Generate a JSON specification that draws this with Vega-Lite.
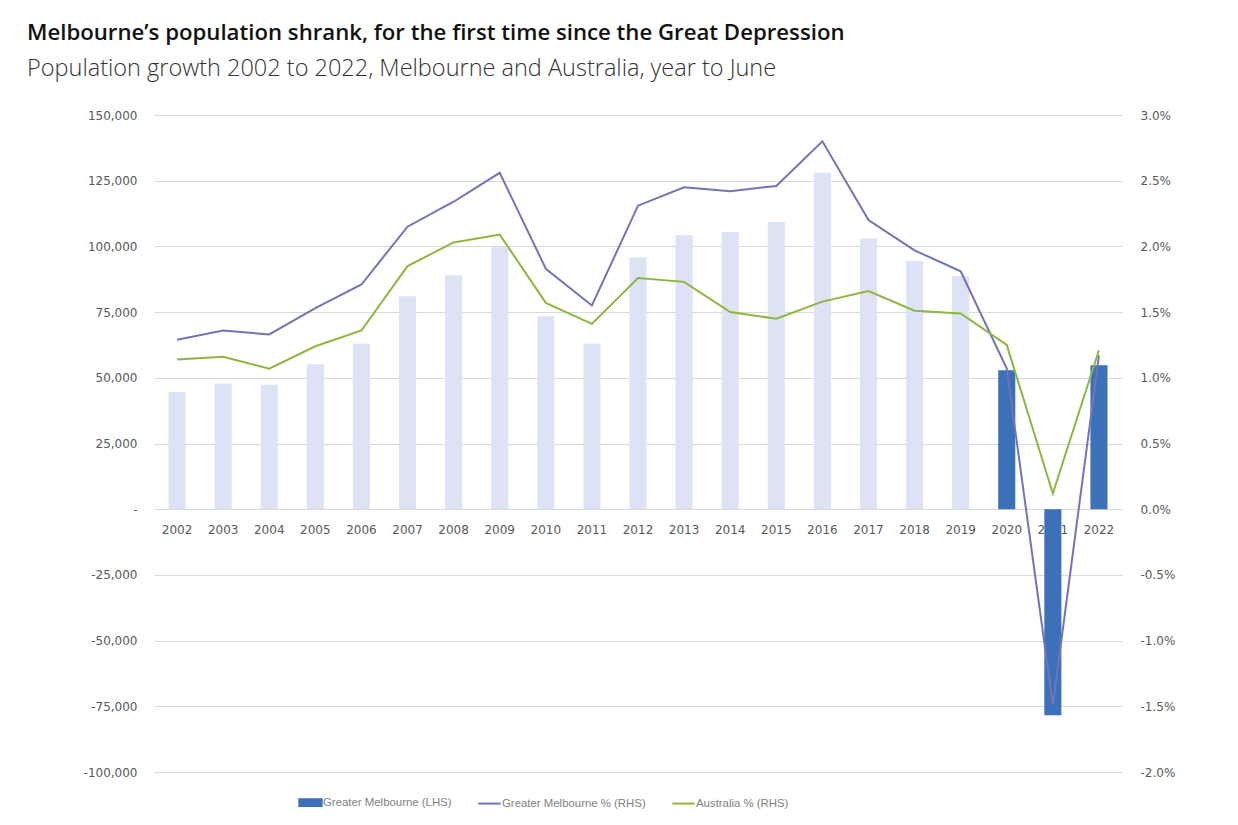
{
  "$schema": "https://vega.github.io/schema/vega-lite/v6.json",
  "width": 968,
  "height": 657,
  "autosize": {"type": "none"},
  "padding": {"left": 154, "top": 115, "right": 116, "bottom": 53},
  "background": "white",
  "config": {"view": {"stroke": null}, "font": "Open Sans"},
  "title": {
    "text": "Melbourne’s population shrank, for the first time since the Great Depression",
    "subtitle": "Population growth 2002 to 2022, Melbourne and Australia, year to June",
    "anchor": "start",
    "frame": "group",
    "dx": -127,
    "offset": 29,
    "font": "Open Sans",
    "fontSize": 22.2,
    "fontWeight": 600,
    "color": "#111111",
    "subtitleFont": "Open Sans",
    "subtitleFontSize": 23.5,
    "subtitleFontWeight": 300,
    "subtitleColor": "#333333",
    "subtitlePadding": 12
  },
  "data": {
    "values": [
      {"year": 2002, "melb": 44600, "melbPct": 0.0129, "ausPct": 0.0114},
      {"year": 2003, "melb": 47800, "melbPct": 0.0136, "ausPct": 0.0116},
      {"year": 2004, "melb": 47400, "melbPct": 0.0133, "ausPct": 0.0107},
      {"year": 2005, "melb": 55200, "melbPct": 0.0153, "ausPct": 0.0124},
      {"year": 2006, "melb": 63000, "melbPct": 0.0171, "ausPct": 0.0136},
      {"year": 2007, "melb": 81000, "melbPct": 0.0215, "ausPct": 0.0185},
      {"year": 2008, "melb": 89000, "melbPct": 0.0234, "ausPct": 0.0203},
      {"year": 2009, "melb": 99700, "melbPct": 0.0256, "ausPct": 0.0209},
      {"year": 2010, "melb": 73400, "melbPct": 0.0183, "ausPct": 0.0157},
      {"year": 2011, "melb": 63000, "melbPct": 0.0155, "ausPct": 0.0141},
      {"year": 2012, "melb": 95800, "melbPct": 0.0231, "ausPct": 0.0176},
      {"year": 2013, "melb": 104300, "melbPct": 0.0245, "ausPct": 0.0173},
      {"year": 2014, "melb": 105500, "melbPct": 0.0242, "ausPct": 0.0150},
      {"year": 2015, "melb": 109300, "melbPct": 0.0246, "ausPct": 0.0145},
      {"year": 2016, "melb": 128000, "melbPct": 0.0280, "ausPct": 0.0158},
      {"year": 2017, "melb": 103000, "melbPct": 0.0220, "ausPct": 0.0166},
      {"year": 2018, "melb": 94400, "melbPct": 0.0197, "ausPct": 0.0151},
      {"year": 2019, "melb": 88700, "melbPct": 0.0181, "ausPct": 0.0149},
      {"year": 2020, "melb": 52900, "melbPct": 0.0107, "ausPct": 0.0125},
      {"year": 2021, "melb": -78400, "melbPct": -0.0149, "ausPct": 0.0012},
      {"year": 2022, "melb": 54800, "melbPct": 0.0117, "ausPct": 0.0121}
    ]
  },
  "encoding": {
    "x": {
      "field": "year",
      "type": "ordinal",
      "scale": {"paddingInner": 0.63, "paddingOuter": 0.315},
      "axis": {
        "orient": "bottom",
        "offset": -262.8,
        "title": null,
        "domain": false,
        "ticks": false,
        "grid": false,
        "labelAngle": 0,
        "labelPadding": 15,
        "labelFont": "DejaVu Sans",
        "labelFontSize": 12,
        "labelColor": "#595959"
      }
    }
  },
  "layer": [
    {
      "mark": {"type": "bar"},
      "encoding": {
        "y": {
          "field": "melb",
          "type": "quantitative",
          "scale": {"domain": [-100000, 150000], "nice": false, "zero": false},
          "axis": {
            "orient": "left",
            "title": null,
            "values": [-100000, -75000, -50000, -25000, 0, 25000, 50000, 75000, 100000, 125000, 150000],
            "labelExpr": "datum.value == 0 ? '-\u2007\u2007' : replace(format(datum.value, ','), '−', '-')",
            "domain": false,
            "ticks": false,
            "grid": true,
            "gridColor": "#d9d9d9",
            "gridWidth": 1,
            "labelPadding": 17,
            "labelFont": "DejaVu Sans",
            "labelFontSize": 12,
            "labelColor": "#595959"
          }
        },
        "color": {
          "condition": {"test": "datum.year < 2020", "value": "#dde2f5"},
          "datum": "melb",
          "type": "nominal",
          "scale": {"domain": ["melb", "melbPct", "ausPct"], "range": ["#3c70b8", "#7174b8", "#8db63c"]},
          "legend": {
            "orient": "none",
            "legendX": 144,
            "legendY": 675,
            "direction": "horizontal",
            "title": null,
            "labelExpr": "datum.value == 'melb' ? 'Greater Melbourne (LHS)' : datum.value == 'melbPct' ? 'Greater Melbourne % (RHS)' : 'Australia % (RHS)'",
            "labelFont": "Liberation Sans",
            "labelFontSize": 11.4,
            "labelColor": "#7f7f7f",
            "symbolSize": 500,
            "labelOffset": 0,
            "columnPadding": 22,
            "encode": {
              "symbols": {
                "update": {
                  "shape": {"signal": "datum.value == 'melb' ? 'M-1,-0.3H1V0.3H-1Z' : 'stroke'"},
                  "fill": {"signal": "datum.value == 'melb' ? '#3c70b8' : 'transparent'"},
                  "stroke": {"signal": "datum.value == 'melb' ? '#3c70b8' : datum.value == 'melbPct' ? '#7174b8' : '#8db63c'"},
                  "strokeWidth": {"value": 2},
                  "opacity": {"value": 1}
                }
              }
            }
          }
        }
      }
    },
    {
      "transform": [{"fold": ["melbPct", "ausPct"], "as": ["series", "pct"]}],
      "mark": {"type": "line", "strokeWidth": 2},
      "encoding": {
        "y": {
          "field": "pct",
          "type": "quantitative",
          "scale": {"domain": [-0.02, 0.03], "nice": false, "zero": false},
          "axis": {
            "orient": "right",
            "title": null,
            "labelExpr": "replace(format(datum.value, '.1%'), '−', '-')",
            "values": [-0.02, -0.015, -0.01, -0.005, 0, 0.005, 0.01, 0.015, 0.02, 0.025, 0.03],
            "domain": false,
            "ticks": false,
            "grid": false,
            "labelPadding": 18,
            "labelFont": "DejaVu Sans",
            "labelFontSize": 12,
            "labelColor": "#595959"
          }
        },
        "color": {
          "field": "series",
          "type": "nominal",
          "scale": {"domain": ["melb", "melbPct", "ausPct"], "range": ["#3c70b8", "#7174b8", "#8db63c"]},
          "legend": {
            "orient": "none",
            "legendX": 144,
            "legendY": 675,
            "direction": "horizontal",
            "title": null,
            "labelExpr": "datum.value == 'melb' ? 'Greater Melbourne (LHS)' : datum.value == 'melbPct' ? 'Greater Melbourne % (RHS)' : 'Australia % (RHS)'",
            "labelFont": "Liberation Sans",
            "labelFontSize": 11.4,
            "labelColor": "#7f7f7f",
            "symbolSize": 500,
            "labelOffset": 0,
            "columnPadding": 22,
            "encode": {
              "symbols": {
                "update": {
                  "shape": {"signal": "datum.value == 'melb' ? 'M-1,-0.3H1V0.3H-1Z' : 'stroke'"},
                  "fill": {"signal": "datum.value == 'melb' ? '#3c70b8' : 'transparent'"},
                  "stroke": {"signal": "datum.value == 'melb' ? '#3c70b8' : datum.value == 'melbPct' ? '#7174b8' : '#8db63c'"},
                  "strokeWidth": {"value": 2},
                  "opacity": {"value": 1}
                }
              }
            }
          }
        }
      }
    }
  ],
  "resolve": {"scale": {"y": "independent"}}
}
